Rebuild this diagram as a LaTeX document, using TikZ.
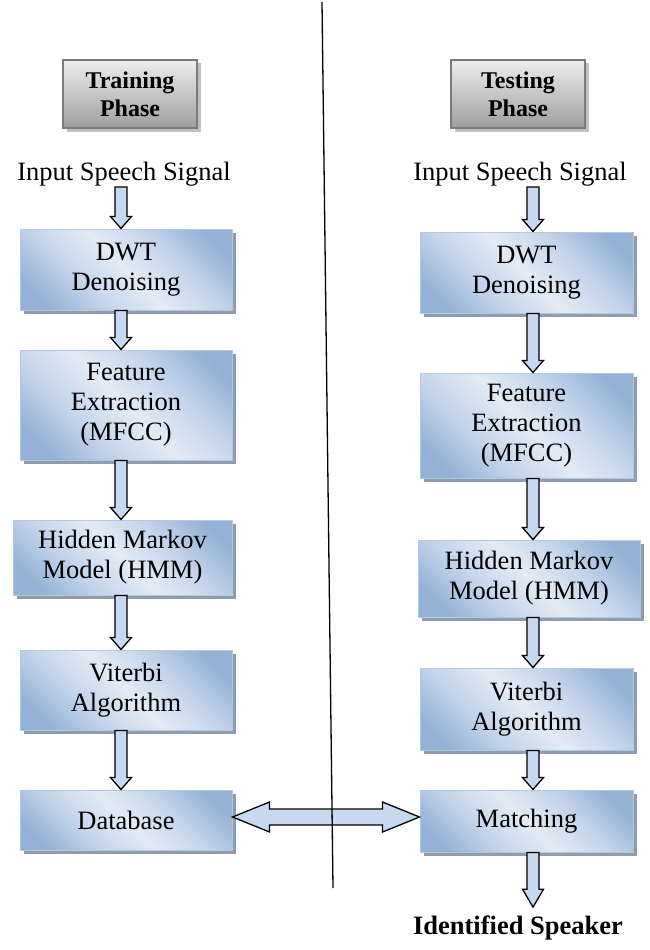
\documentclass[tikz,border=0pt]{standalone}
\usepackage{fontspec}
\setmainfont{Liberation Serif}
\usetikzlibrary{shadows,calc}
\definecolor{boxlt}{HTML}{E3EBF5}
\definecolor{boxmd}{HTML}{C3D4EA}
\definecolor{boxdk}{HTML}{94B1D6}
\definecolor{boxedge}{HTML}{B4C8E2}
\definecolor{boxshadow}{HTML}{8E9CAE}
\definecolor{arrowfill}{HTML}{C6D9F1}
\definecolor{phaseedge}{HTML}{7A7A7A}
\definecolor{phaseshadow}{HTML}{C0C0C0}
\pgfdeclarehorizontalshading{glassblue}{100bp}{color(0bp)=(boxdk); color(22bp)=(boxdk); color(36bp)=(boxmd); color(50bp)=(boxlt); color(64bp)=(boxmd); color(78bp)=(boxdk); color(100bp)=(boxdk)}
\newcommand{\vblockarrow}[3][12]{%
  \draw[blockarr] let \p1=(#2), \p2=(#3) in
    (\x1-6pt,\y1) -- (\x1+6pt,\y1) -- (\x1+6pt,\y2+#1pt) -- (\x1+10.5pt,\y2+#1pt)
    -- (\x1,\y2) -- (\x1-10.5pt,\y2+#1pt) -- (\x1-6pt,\y2+#1pt) -- cycle;}
\begin{document}
\begin{tikzpicture}[x=1pt,y=-1pt,
  txt/.style={font=\fontsize{26.5}{30}\selectfont, inner sep=0pt},
  bluebox/.style={draw=boxedge, line width=1pt, shading=glassblue, shading angle=45,
    align=center, inner sep=0pt, font=\fontsize{26.5}{30}\selectfont,
    drop shadow={shadow xshift=3.5pt, shadow yshift=-3.5pt, fill=boxshadow, opacity=1}},
  phasebox/.style={draw=phaseedge, line width=1.6pt, top color=white!93!black, bottom color=black!38,
    align=center, inner sep=0pt, font=\fontsize{24}{28}\selectfont\bfseries,
    minimum width=134pt, minimum height=68pt,
    drop shadow={shadow xshift=3.5pt, shadow yshift=-3.5pt, fill=phaseshadow, opacity=1}},
  blockarr/.style={draw=black, line width=1.3pt, fill=arrowfill, line join=miter}]
\useasboundingbox (0,0) rectangle (650,950);

% phase headers
\node[phasebox] (train) at (130,94) {Training\\Phase};
\node[phasebox] (test) at (518,94) {Testing\\Phase};

\coordinate (colL) at (121,0);
\coordinate (colR) at (533,0);

% inputs
\node[txt, anchor=base] (inL) at (124,180) {Input Speech Signal};
\node[txt, anchor=base] (inR) at (520,180) {Input Speech Signal};

% left column
\node[bluebox, minimum width=212pt, minimum height=81pt] (dwtL) at (126,269.5) {DWT\\Denoising};
\node[bluebox, minimum width=212pt, minimum height=110pt] (feaL) at (126,405) {Feature\\Extraction\\(MFCC)};
\node[bluebox, minimum width=219pt, minimum height=75pt] (hmmL) at (122.5,557.5) {Hidden Markov\\Model (HMM)};
\node[bluebox, minimum width=212pt, minimum height=80pt] (vitL) at (126,690) {Viterbi\\Algorithm};
\node[bluebox, minimum width=212pt, minimum height=60pt] (dbL) at (126,820) {Database};

% right column
\node[bluebox, minimum width=213pt, minimum height=81pt] (dwtR) at (526.5,272.5) {DWT\\Denoising};
\node[bluebox, minimum width=213pt, minimum height=105pt] (feaR) at (526.5,425.5) {Feature\\Extraction\\(MFCC)};
\node[bluebox, minimum width=222pt, minimum height=77pt] (hmmR) at (529,578.5) {Hidden Markov\\Model (HMM)};
\node[bluebox, minimum width=213pt, minimum height=82pt] (vitR) at (526.5,709) {Viterbi\\Algorithm};
\node[bluebox, minimum width=213pt, minimum height=62pt] (match) at (526.5,821) {Matching};

\node[txt, font=\fontsize{26.5}{30}\selectfont\bfseries, anchor=base] (spk) at (518,934) {Identified Speaker};

% left arrows
\vblockarrow{$(inL.base -| colL)+(0,7)$}{dwtL.north -| colL}
\vblockarrow{dwtL.south -| colL}{feaL.north -| colL}
\vblockarrow{feaL.south -| colL}{hmmL.north -| colL}
\vblockarrow{hmmL.south -| colL}{vitL.north -| colL}
\vblockarrow{vitL.south -| colL}{dbL.north -| colL}

% right arrows
\vblockarrow{$(inR.base -| colR)+(0,7)$}{dwtR.north -| colR}
\vblockarrow{dwtR.south -| colR}{feaR.north -| colR}
\vblockarrow{feaR.south -| colR}{hmmR.north -| colR}
\vblockarrow{hmmR.south -| colR}{vitR.north -| colR}
\vblockarrow{vitR.south -| colR}{match.north -| colR}
\vblockarrow[18]{match.south -| colR}{$(spk.north -| colR)+(0,-8)$}

% double arrow
\coordinate (dbtip) at ($(dbL.east)+(0,-3)$);
\coordinate (mtip) at ($(match.west)+(0,-4)$);
\draw[blockarr] let \p1=(dbtip), \p2=(mtip) in
  (\x1,\y1) -- (\x1+37pt,\y1+15pt) -- (\x1+37pt,\y1+8pt) -- (\x2-37pt,\y1+8pt)
  -- (\x2-37pt,\y1+15pt) -- (\x2,\y1) -- (\x2-37pt,\y1-15pt) -- (\x2-37pt,\y1-8pt)
  -- (\x1+37pt,\y1-8pt) -- (\x1+37pt,\y1-15pt) -- cycle;

% divider
\coordinate (divtop) at (322,2);
\coordinate (divbot) at (333,888);
\draw[line width=1.3pt] (divtop) -- (divbot);
\end{tikzpicture}
\end{document}
